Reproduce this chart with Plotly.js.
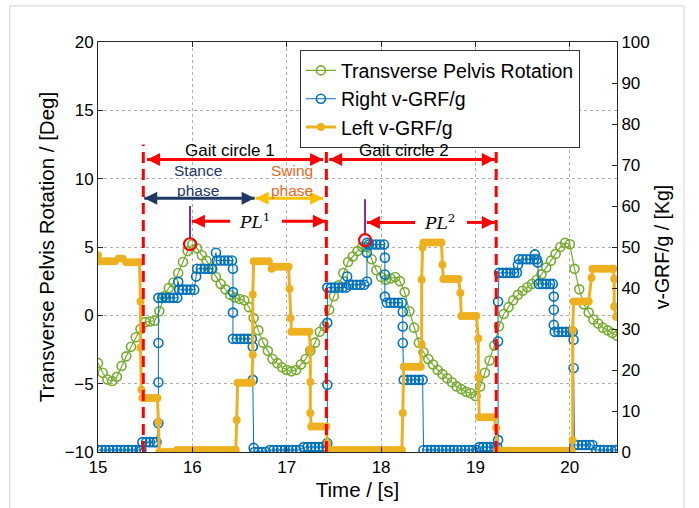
<!DOCTYPE html>
<html>
<head>
<meta charset="utf-8">
<script src="https://cdn.plot.ly/plotly-3.0.1.min.js"></script>
<style>html,body{margin:0;padding:0;background:#fff}#chart{width:699px;height:508px}</style>
</head>
<body>
<div id="chart"></div>
<script>
// ---- data ----
const pelvisTime = [15.00,15.05,15.10,15.15,15.20,15.25,15.30,15.35,15.40,15.45,15.50,15.55,15.60,15.65,15.70,15.75,15.80,15.85,15.90,15.95,
16.00,16.05,16.10,16.15,16.20,16.25,16.30,16.35,16.40,16.45,16.50,16.55,16.60,16.65,16.70,16.75,16.80,16.85,16.90,16.95,
17.00,17.05,17.10,17.15,17.20,17.25,17.30,17.35,17.40,17.45,17.50,17.55,17.60,17.65,17.70,17.75,17.80,17.85,17.90,17.95,
18.00,18.05,18.10,18.15,18.20,18.25,18.30,18.35,18.40,18.45,18.50,18.55,18.60,18.65,18.70,18.75,18.80,18.85,18.90,18.95,
19.00,19.05,19.10,19.15,19.20,19.25,19.30,19.35,19.40,19.45,19.50,19.55,19.60,19.65,19.70,19.75,19.80,19.85,19.90,19.95,
20.00,20.05,20.10,20.15,20.20,20.25,20.30,20.35,20.40,20.45,20.50];
const pelvisDeg = [-3.5,-4.2,-4.7,-4.8,-4.5,-3.7,-3.0,-2.3,-1.6,-1.0,-0.5,-0.45,-0.4,0.3,1.4,2.0,2.4,3.1,3.9,4.7,
5.2,4.9,4.4,4.0,3.4,2.8,2.3,1.9,1.5,1.3,1.2,1.1,0.6,-0.2,-1.1,-2.0,-2.6,-3.2,-3.5,-3.8,
-4.0,-4.1,-4.0,-3.6,-3.2,-2.6,-2.0,-1.2,-0.8,0.4,1.4,2.2,3.1,3.9,4.3,4.7,5.0,5.0,4.1,3.3,
2.8,2.6,2.7,2.8,2.5,1.7,0.3,-0.9,-2.0,-2.7,-3.2,-3.6,-4.0,-4.3,-4.6,-4.9,-5.2,-5.4,-5.6,-5.7,
-5.9,-5.2,-4.2,-3.3,-2.2,-0.8,0.1,0.6,1.1,1.5,1.8,2.05,2.3,2.6,3.0,3.5,4.0,4.5,5.0,5.3,
5.2,3.4,1.9,0.8,0.2,-0.3,-0.6,-0.9,-1.1,-1.3,-1.5];

const rightTime = [15.00,15.04,15.08,15.12,15.16,15.20,15.24,15.28,15.32,15.36,15.40,15.44,15.46,
15.47,15.51,15.55,15.59,15.62,15.64,15.64,15.64,15.64,15.68,15.72,15.76,15.80,15.84,15.85,
15.86,15.90,15.94,15.98,16.02,16.04,16.05,16.09,16.13,16.17,16.21,16.25,16.26,16.30,16.34,16.38,16.42,
16.43,16.43,16.43,16.43,16.47,16.51,16.55,16.59,16.63,16.64,16.64,16.65,16.66,16.70,16.74,16.78,
16.82,16.86,16.90,16.94,16.98,17.02,17.06,17.10,17.14,17.18,17.22,17.26,17.30,17.34,17.38,17.42,
17.43,17.43,17.43,17.43,17.47,17.51,17.55,17.59,17.63,17.64,17.66,17.70,17.74,17.78,17.82,
17.85,17.85,17.85,17.87,17.91,17.95,17.99,18.03,18.04,18.04,18.04,18.06,18.10,18.14,18.18,18.22,
18.23,18.23,18.23,18.24,18.28,18.32,18.36,18.40,18.44,
18.45,18.49,18.53,18.57,18.61,18.65,18.69,18.73,18.77,18.81,18.85,18.89,18.93,18.97,19.01,
19.04,19.08,19.12,19.16,19.20,19.23,19.24,19.24,19.24,19.25,19.29,19.33,19.37,19.41,19.44,19.45,
19.46,19.50,19.54,19.58,19.62,19.63,19.65,19.66,19.67,19.71,19.75,19.79,19.82,19.83,19.83,19.83,
19.84,19.88,19.92,19.96,20.00,20.03,20.04,20.04,20.05,20.09,20.13,20.17,20.21,20.24,
20.28,20.32,20.36,20.40,20.44,20.48,20.50];
const rightKg = [0.5,0.5,0.5,0.5,0.5,0.5,0.5,0.5,0.5,0.5,0.5,0.5,0.5,
2.4,2.4,2.4,2.4,2.4,7,17,26.6,37.6,37.6,37.6,37.6,37.6,37.6,41.5,
39.6,39.6,39.6,39.6,39.6,42.8,44.7,44.7,44.7,44.7,44.7,48.6,46.7,46.7,46.7,46.7,46.7,
44.7,39,34,27.6,27.6,27.6,27.6,27.6,27.6,25.7,17.6,1,0,0,0,0,
0.5,0.5,0.5,0.5,0.5,0.5,0.5,0.5,0.5,1.2,1.2,1.2,1.2,1.2,1.2,1.2,
2.2,16.4,31.5,40.1,40.1,40.1,40.1,40.1,40.1,42.8,40.8,40.8,40.8,40.8,40.8,
41.6,48.6,51,50.6,50.6,50.6,50.6,50.6,47.4,43.3,37.9,36.4,36.4,36.4,36.4,36.4,
34.2,30.6,26.6,17.6,17.6,17.6,17.6,17.6,17.6,
0.5,0.5,0.5,0.5,0.5,0.5,0.5,0.5,0.5,0.5,0.5,0.5,0.5,0.5,0.5,
1.2,1.2,1.2,1.2,1.2,1.2,2.9,27,36.7,43.7,43.7,43.7,43.7,43.7,43.7,45.7,
47,47,47,47,47,48.2,47,46.2,41,41,41,41,41,37.9,34.7,31,
29.3,29.3,29.3,29.3,29.3,29.3,27.4,20.5,1.7,1.7,1.7,1.7,1.7,1.7,
0.5,0.5,0.5,0.5,0.5,0.5,0.5];

const leftTime = [15.00,15.02,15.06,15.10,15.14,15.18,15.22,15.26,15.30,15.34,15.38,15.42,15.44,
15.45,15.45,15.46,15.47,15.51,15.55,15.59,15.63,15.64,15.65,15.70,15.74,15.78,15.82,
15.84,15.88,15.92,15.96,16.00,16.04,16.08,16.12,16.16,16.20,16.24,16.28,16.32,16.36,16.40,16.44,16.46,
16.47,16.48,16.52,16.56,16.60,16.63,16.64,16.64,16.65,16.69,16.73,16.77,16.81,16.84,
16.86,16.90,16.94,16.98,17.02,17.03,17.04,17.05,17.09,17.13,17.17,17.21,17.24,
17.25,17.25,17.25,17.26,17.30,17.34,17.38,17.42,17.43,17.44,
17.47,17.51,17.55,17.59,17.63,17.67,17.71,17.75,17.79,17.83,17.87,17.91,17.95,17.99,18.03,18.07,18.11,18.15,18.19,18.22,
18.23,18.24,18.28,18.32,18.36,18.40,18.42,18.43,18.43,18.44,18.45,18.49,18.53,18.57,18.61,18.64,
18.65,18.66,18.70,18.74,18.78,18.82,18.84,18.85,18.89,18.93,18.97,19.01,19.03,19.03,
19.04,19.08,19.12,19.16,19.20,19.22,19.23,
19.27,19.31,19.35,19.39,19.43,19.47,19.51,19.55,19.59,19.63,19.67,19.71,19.75,19.79,19.83,19.87,19.91,19.95,19.99,20.02,
20.03,20.03,20.04,20.08,20.12,20.16,20.20,20.23,20.24,20.28,20.32,20.36,20.40,20.44,20.46,20.47,20.47,20.49,20.50];
const leftKg = [48,46.5,46.5,46.5,46.5,46.5,47.2,47.2,46.3,46.3,46.3,46.3,46.3,
36.7,25.4,15.2,13.2,13.2,13.2,13.2,13.2,7.3,0,0,0,0,0,
0.5,0.5,0.5,0.5,0.5,0.5,0.5,0.5,0.5,0.5,0.5,0.5,0.5,0.5,0.5,0.5,0.5,
7.8,16.9,16.9,16.9,16.9,16.9,23.7,38.4,46.5,46.5,46.5,46.5,46.5,44.7,
45.2,45.2,45.2,45.2,45.2,39.8,32.7,29.3,29.3,29.3,29.3,29.3,29.3,
24.9,17.1,9.5,6.2,6.2,6.2,6.2,6.2,2.2,0,
0.5,0.5,0.5,0.5,0.5,0.5,0.5,0.5,0.5,0.5,0.5,0.5,0.5,0.5,0.5,0.5,0.5,0.5,0.5,0.5,
9.5,20.8,20.8,20.8,20.8,20.8,20.8,26.2,42,49.9,51.1,51.1,51.1,51.1,51.1,51.1,
45.7,42.2,42.2,42.2,42.2,42.2,38.8,33.2,33.2,33.2,33.2,33.2,27.7,18.2,
8.5,8.5,8.5,8.5,8.5,5.9,0.3,
0.3,0.3,0.3,0.3,0.3,0.3,0.3,0.3,0.3,0.3,0.3,0.3,0.3,0.3,0.3,0.3,0.3,0.3,0.3,0.3,
2.9,29.8,36.7,36.7,36.7,36.7,36.7,42.5,44.7,44.7,44.7,44.7,44.7,44.7,44.7,42.2,35.5,33,33];

const seriesNames = ['Transverse Pelvis Rotation','Right v-GRF/g','Left v-GRF/g'];
const gaitBounds = [15.48, 17.42, 19.22];      // s, start/end of gait circles
const peakTime = [15.975, 17.83];               // s, marked pelvis peaks
const peakDeg = [5.2, 5.5];                     // deg
const xTicks = [15,16,17,18,19,20];

// ---- styling / decorations ----
const FONT = 'Liberation Sans, Arial, Helvetica, sans-serif';
const RED = '#ff0000';

const traces = [
  {x: pelvisTime, y: pelvisDeg, name: seriesNames[0], type: 'scatter', mode: 'lines+markers',
   line: {color: '#77ac30', width: 1.2},
   marker: {symbol: 'circle-open', size: 9, color: '#77ac30', line: {width: 1.6}}, yaxis: 'y'},
  {x: rightTime, y: rightKg, name: seriesNames[1], type: 'scatter', mode: 'lines+markers',
   line: {color: '#0072bd', width: 1},
   marker: {symbol: 'circle-open', size: 9, color: '#0072bd', line: {width: 1.6}}, yaxis: 'y2'},
  {x: leftTime, y: leftKg, name: seriesNames[2], type: 'scatter', mode: 'lines+markers',
   line: {color: '#edb120', width: 3},
   marker: {symbol: 'circle', size: 8, color: '#edb120'}, yaxis: 'y2'}
];

const shapes = [];
// figure frame
shapes.push({type:'rect', xref:'paper', yref:'paper', x0:-0.17, x1:1.129, y0:-0.16, y1:1.088,
  line:{color:'#d4d4d4', width:1}, layer:'below'});
gaitBounds.forEach(b => shapes.push({type:'line', xref:'x', yref:'y', x0:b, x1:b, y0:-10, y1:12.5,
  line:{color:RED, width:3, dash:'11px,6px'}, layer:'above'}));
// purple markers above peaks
shapes.push({type:'line', xref:'x', yref:'y', x0:peakTime[0], x1:peakTime[0], y0:5.65, y1:8.0, line:{color:'#7e2f8e', width:2}});
shapes.push({type:'line', xref:'x', yref:'y', x0:peakTime[1], x1:peakTime[1], y0:5.95, y1:8.5, line:{color:'#7e2f8e', width:2}});
peakTime.forEach((t,i) => shapes.push({type:'circle', xref:'x', yref:'y', xsizemode:'pixel', ysizemode:'pixel',
  xanchor:t, yanchor:peakDeg[i], x0:-6, x1:6, y0:-6, y1:6, line:{color:RED, width:2.2}, layer:'above'}));

// arrows drawn as a shaft line plus triangular heads (pixel-sized paths anchored at the tips)
function head(tip, y, dir, color) {
  const L = 13, W = 6.5;
  const p = dir < 0 ? `M0,0 L${L},${W} L${L},${-W} Z` : `M0,0 L${-L},${W} L${-L},${-W} Z`;
  return {type:'path', xref:'x', yref:'y', xsizemode:'pixel', ysizemode:'pixel', xanchor:tip, yanchor:y,
    path:p, fillcolor:color, line:{width:0}, layer:'above'};
}
function arrow(x0, x1, y, color, leftHead, rightHead) {
  shapes.push({type:'line', xref:'x', yref:'y', x0:x0, x1:x1, y0:y, y1:y, line:{color:color, width:3}, layer:'above'});
  if (leftHead) shapes.push(head(x0, y, -1, color));
  if (rightHead) shapes.push(head(x1, y, 1, color));
}
arrow(15.52, 17.385, 11.4, RED, true, true);
arrow(17.45, 19.205, 11.4, RED, true, true);
arrow(15.49, 16.66, 8.56, '#203864', true, true);
arrow(16.67, 17.385, 8.56, '#ffc000', true, true);
arrow(15.995, 16.40, 6.88, RED, true, false);
arrow(16.95, 17.415, 6.88, RED, false, true);
arrow(17.85, 18.36, 6.8, RED, true, false);
arrow(18.91, 19.205, 6.8, RED, false, true);

const annotations = [
  {x:16.40, y:12.05, xref:'x', yref:'y', text:'Gait circle 1', showarrow:false, font:{family:FONT, size:17, color:'#000'}},
  {x:18.24, y:12.05, xref:'x', yref:'y', text:'Gait circle 2', showarrow:false, font:{family:FONT, size:17, color:'#000'}},
  {x:16.06, y:9.9, xref:'x', yref:'y', text:'Stance<br>phase', showarrow:false, font:{family:FONT, size:15.5, color:'#203864'}},
  {x:17.06, y:9.9, xref:'x', yref:'y', text:'Swing<br>phase', showarrow:false, font:{family:FONT, size:15.5, color:'#e8681a'}},
  {x:16.66, y:6.88, xref:'x', yref:'y', text:'<i>PL</i><sup>1</sup>', showarrow:false, font:{family:'DejaVu Serif, Liberation Serif, serif', size:17, color:'#000'}},
  {x:18.62, y:6.8, xref:'x', yref:'y', text:'<i>PL</i><sup>2</sup>', showarrow:false, font:{family:'DejaVu Serif, Liberation Serif, serif', size:17, color:'#000'}}
];

const layout = {
  width: 699, height: 508,
  margin: {l: 98, r: 82, t: 42, b: 56, pad: 0},
  paper_bgcolor: '#fff', plot_bgcolor: '#fff',
  font: {family: FONT, size: 17, color: '#262626'},
  showlegend: true,
  legend: {x: 0.389, y: 0.98, xanchor: 'left', yanchor: 'top', bgcolor: '#fff',
    bordercolor: '#333', borderwidth: 1, font: {family: FONT, size: 19.5, color: '#000'},
    tracegroupgap: 0, itemwidth: 30},
  xaxis: {range: [15, 20.5], tickvals: xTicks, ticks: 'inside', ticklen: 5, tickcolor: '#262626',
    showline: true, linecolor: '#262626', linewidth: 1, mirror: 'ticks',
    showgrid: true, gridcolor: '#b0b0b0', griddash: 'dot', gridwidth: 1, zeroline: false,
    tickfont: {family: FONT, size: 17, color: '#000'},
    title: {text: 'Time / [s]', font: {family: FONT, size: 20.5, color: '#000'}, standoff: 6}},
  yaxis: {range: [-10, 20], dtick: 5, tick0: -10, ticks: 'inside', ticklen: 5, tickcolor: '#262626',
    showline: true, linecolor: '#262626', linewidth: 1,
    showgrid: true, gridcolor: '#b0b0b0', griddash: 'dot', gridwidth: 1, zeroline: false,
    tickfont: {family: FONT, size: 17, color: '#000'},
    title: {text: 'Transverse Pelvis Rotation / [Deg]', font: {family: FONT, size: 20.5, color: '#000'}, standoff: 4}},
  yaxis2: {range: [0, 100], dtick: 10, tick0: 0, overlaying: 'y', side: 'right', ticks: 'inside', ticklen: 5,
    tickcolor: '#262626', showline: true, linecolor: '#262626', linewidth: 1,
    showgrid: false, zeroline: false,
    tickfont: {family: FONT, size: 17, color: '#000'},
    title: {text: 'v-GRF/g / [Kg]', font: {family: FONT, size: 19.5, color: '#000'}, standoff: 6}},
  shapes: shapes,
  annotations: annotations
};

Plotly.newPlot('chart', traces, layout, {displayModeBar: false, staticPlot: true});
</script>
</body>
</html>
